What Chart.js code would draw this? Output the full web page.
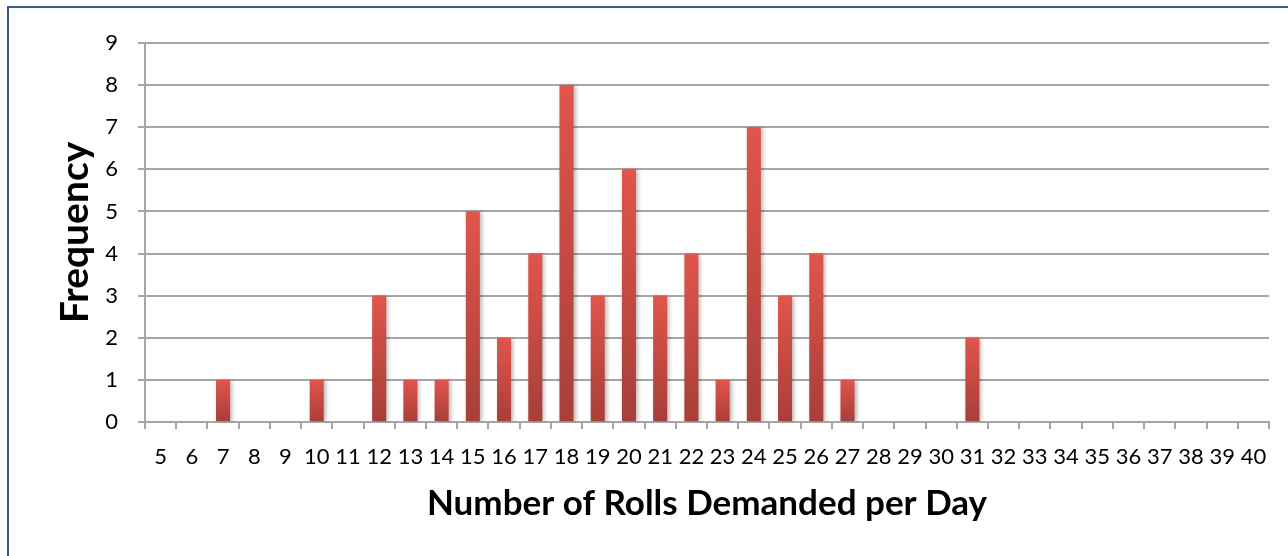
<!DOCTYPE html>
<html>
<head>
<meta charset="utf-8">
<script src="https://cdn.jsdelivr.net/npm/chart.js@4.4.1/dist/chart.umd.min.js"></script>
<style>
  body { margin: 0; background: #fff; overflow: hidden; }
  #frame { position: absolute; left: 7px; top: 6px; width: 1400px; height: 700px;
           border-left: 2px solid #3c5e84; border-top: 2px solid #3c5e84; }
  #wrap { position: absolute; left: 0; top: 0; width: 1288px; height: 556px; }
</style>
</head>
<body>
<div id="frame"></div>
<div id="wrap"><canvas id="grafico" width="1288" height="556"></canvas></div>
<script>
// rolls demanded per day 5..40
var rolls = [];
for (var r = 5; r <= 40; r++) rolls.push(String(r));

var frequency = [0, 0, 1, 0, 0, 1, 0, 3, 1, 1, 5, 2, 4, 8, 3, 6, 3, 4, 1, 7, 3, 4, 1,
                 0, 0, 0, 2, 0, 0, 0, 0, 0, 0, 0, 0, 0];

var yTicks = [0, 1, 2, 3, 4, 5, 6, 7, 8, 9];

var barFill = function (context) {
    var chart = context.chart;
    var y = chart.scales.y;
    if (!y || context.raw === undefined) return '#d24c44';
    var top = y.getPixelForValue(context.raw);
    var base = y.getPixelForValue(0);
    if (!isFinite(top) || !isFinite(base) || top === base) return '#d24c44';
    var g = chart.ctx.createLinearGradient(0, top, 0, base);
    g.addColorStop(0, '#e0554c');
    g.addColorStop(1, '#a73f38');
    return g;
};

var shadow = {
    id: 'shadow',
    beforeDatasetsDraw: function (chart) {
        var ctx = chart.ctx;
        ctx.save();
        ctx.shadowColor = 'rgba(0,0,0,0.28)';
        ctx.shadowBlur = 4;
        ctx.shadowOffsetX = 2;
        ctx.shadowOffsetY = 1;
    },
    afterDatasetsDraw: function (chart) {
        chart.ctx.restore();
    }
};

var data = {
    labels: rolls,
    datasets: [{
        label: 'Frequency',
        data: frequency,
        backgroundColor: barFill,
        borderWidth: 0,
        categoryPercentage: 1,
        barPercentage: 0.45
    }]
};

var tickFont = { family: 'Lato', size: 22 };

var options = {
    responsive: false,
    animation: false,
    layout: { padding: { top: 43, right: 19, bottom: 0, left: 0 } },
    plugins: { legend: { display: false }, tooltip: { enabled: false } },
    scales: {
        x: {
            grid: { offset: true, drawOnChartArea: false, drawTicks: true, tickLength: 7,
                    color: '#a6a6a6', lineWidth: 2 },
            border: { color: '#a6a6a6', width: 2 },
            ticks: { color: '#000', font: tickFont, padding: 15, maxRotation: 0, autoSkip: false },
            title: { display: true, text: 'Number of Rolls Demanded per Day', color: '#000',
                     font: { family: 'Lato', size: 35, weight: 'bold' },
                     padding: { top: 0, bottom: 31 } },
            afterFit: function (scale) { scale.height = 134; }
        },
        y: {
            min: 0,
            max: 9,
            afterBuildTicks: function (scale) {
                scale.ticks = yTicks.map(function (v) { return { value: v }; });
            },
            grid: { color: '#a6a6a6', lineWidth: 2, tickLength: 7 },
            border: { color: '#a6a6a6', width: 2 },
            ticks: { color: '#000', font: tickFont, padding: 20, stepSize: 1 },
            title: { display: true, text: 'Frequency', color: '#000',
                     font: { family: 'Lato', size: 39, weight: 'bold' },
                     padding: { top: 52, bottom: 0 } },
            afterFit: function (scale) { scale.width = 145; }
        }
    }
};

var ctx = document.querySelector('#grafico').getContext('2d');
var barChart = new Chart(ctx, {
    type: 'bar',
    data: data,
    options: options,
    plugins: [shadow]
});
</script>
</body>
</html>
